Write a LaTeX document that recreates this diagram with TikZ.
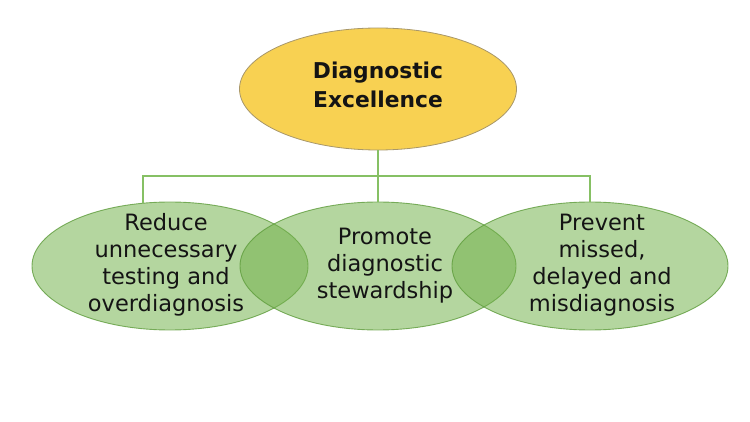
\documentclass[tikz,border=0pt]{standalone}
\usepackage{fontspec}
\setmainfont{DejaVu Sans}
\usetikzlibrary{shapes.geometric}
\definecolor{ytop}{HTML}{F8D152}
\definecolor{yedge}{HTML}{A8976A}
\definecolor{gfill}{HTML}{72B14A}
\definecolor{gedge}{HTML}{5E9C3C}
\definecolor{gline}{HTML}{86C064}
\tikzset{
  topbox/.style={ellipse, draw=yedge, line width=0.8pt, fill=ytop, minimum width=277pt, minimum height=122pt, inner sep=0pt},
  greenbox/.style={ellipse, draw=gedge, draw opacity=0.8, line width=0.9pt, fill=gfill, fill opacity=0.53, minimum width=276pt, minimum height=128pt, inner sep=0pt},
  txt/.style={align=center, font=\fontsize{22.5}{27}\selectfont, text=black!92, inner sep=0pt},
  ttl/.style={align=center, font=\fontsize{21.8}{29}\selectfont\bfseries, text=black!92, inner sep=0pt},
  conn/.style={draw=gline, line width=1.6pt}
}
\begin{document}
\begin{tikzpicture}[x=1pt,y=-1pt]
\useasboundingbox (0,0) rectangle (750,422);
\node[topbox] (top) at (378,89) {};
\node[ttl] (toptxt) at (378,85) {Diagnostic\\Excellence};
\coordinate (bar) at (378,176);
\node[greenbox] (left) at (170,266) {};
\node[greenbox] (mid) at (378,266) {};
\node[greenbox] (right) at (590,266) {};
\coordinate (ljoin) at (143,203.3);
\draw[conn] (top.south) -- (mid.north);
\draw[conn] (ljoin) |- (bar) -| (right.north);
\node[txt] (lefttxt) at (166,265) {Reduce\\unnecessary\\testing and\\overdiagnosis};
\node[txt] (midtxt) at (385,266) {Promote\\diagnostic\\stewardship};
\node[txt] (righttxt) at (602,265) {Prevent\\missed,\\delayed and\\misdiagnosis};
\end{tikzpicture}
\end{document}
